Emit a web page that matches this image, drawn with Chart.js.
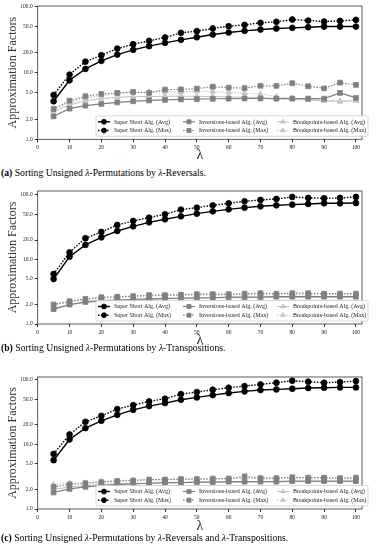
<!DOCTYPE html>
<html>
<head>
<meta charset="utf-8">
<script src="https://cdn.jsdelivr.net/npm/chart.js@4.4.0/dist/chart.umd.min.js"></script>
<style>
  body { margin: 0; background: #fff; width: 377px; height: 550px; position: relative; overflow: hidden; }
  .panel { position: absolute; left: 0; width: 377px; }
  .cap { position: absolute; left: 1px; font: 9.7px "Liberation Serif", serif; line-height: 12px; color: #000; white-space: nowrap; }
</style>
</head>
<body>
<div class="panel" style="top:0"><canvas id="chartA" width="377" height="165"></canvas></div>
<div class="cap" style="top:167px"><b>(a)</b> Sorting Unsigned <i>λ</i>-Permutations by <i>λ</i>-Reversals.</div>
<div class="panel" style="top:185px"><canvas id="chartB" width="377" height="165"></canvas></div>
<div class="cap" style="top:342px"><b>(b)</b> Sorting Unsigned <i>λ</i>-Permutations by <i>λ</i>-Transpositions.</div>
<div class="panel" style="top:371px"><canvas id="chartC" width="377" height="165"></canvas></div>
<div class="cap" style="top:532px"><b>(c)</b> Sorting Unsigned <i>λ</i>-Permutations by <i>λ</i>-Reversals and <i>λ</i>-Transpositions.</div>

<script>
// 공통 축 / 범례 정보
const lambdas = [5, 10, 15, 20, 25, 30, 35, 40, 45, 50, 55, 60, 65, 70, 75, 80, 85, 90, 95, 100];
const xTicks = [0, 10, 20, 30, 40, 50, 60, 70, 80, 90, 100];
const yTicks = [1, 2, 5, 10, 20, 50, 100];
const seriesNames = [
    'Super Short Alg. (Avg)', 'Super Short Alg. (Max)',
    'Inversions-based Alg. (Avg)', 'Inversions-based Alg. (Max)',
    'Breakpoints-based Alg. (Avg)', 'Breakpoints-based Alg. (Max)'
];

// (a) λ-Reversals
const ssAvgA = [3.74, 7.76, 11.5, 15.2, 18.9, 22.3, 25.3, 28.4, 31.5, 34.5, 37.9, 40.6, 43.1, 45.1, 46.7, 47.8, 48.9, 50.0, 50.0, 50.0];
const ssMaxA = [4.66, 9.45, 14.8, 18.5, 23.3, 27.1, 30.4, 34.2, 40.2, 42.6, 46.7, 50.6, 53.0, 56.9, 58.9, 63.8, 61.6, 59.5, 60.9, 63.1];
const invAvgA = [2.22, 2.9, 3.22, 3.41, 3.6, 3.74, 3.85, 3.92, 4.0, 4.03, 4.08, 4.1, 4.12, 4.12, 4.1, 4.12, 4.1, 4.1, 5.0, 4.2];
const invMaxA = [2.86, 3.82, 4.45, 4.82, 5.0, 5.17, 5.0, 5.6, 5.65, 5.81, 6.2, 6.0, 5.9, 6.4, 6.4, 7.0, 6.3, 5.85, 7.15, 6.6];
const bpAvgA = [2.64, 3.3, 3.8, 4.1, 4.3, 4.4, 4.4, 4.45, 4.45, 4.45, 4.4, 4.35, 4.3, 4.25, 4.1, 4.0, 3.9, 3.8, 3.75, 3.8];
const bpMaxA = [2.86, 3.6, 4.2, 4.6, 4.8, 5.1, 5.2, 5.2, 5.2, 5.3, 5.25, 5.1, 4.95, 4.8, 4.4, 4.15, 4.0, 3.85, 3.7, 3.9];

// (b) λ-Transpositions
const ssAvgB = [4.98, 11.05, 16.8, 22.0, 27.6, 32.6, 37.6, 41.9, 46.6, 51.3, 55.7, 59.8, 63.5, 66.6, 69.1, 70.7, 72.4, 74.2, 74.2, 75.0];
const ssMaxB = [5.95, 12.9, 21.3, 26.7, 34.2, 39.5, 44.5, 50.1, 59.2, 63.5, 69.1, 74.2, 79.7, 83.6, 86.6, 93.0, 89.8, 88.7, 89.8, 93.0];
const invAvgB = [1.7, 2.0, 2.2, 2.3, 2.35, 2.4, 2.45, 2.5, 2.5, 2.55, 2.55, 2.6, 2.6, 2.6, 2.65, 2.65, 2.65, 2.65, 2.65, 2.65];
const invMaxB = [2.0, 2.25, 2.45, 2.6, 2.65, 2.7, 2.8, 2.8, 2.85, 2.9, 2.9, 2.9, 2.95, 3.0, 2.95, 3.0, 3.0, 2.95, 2.95, 2.95];
const bpAvgB = [1.75, 2.0, 2.15, 2.25, 2.3, 2.35, 2.4, 2.45, 2.5, 2.5, 2.55, 2.55, 2.55, 2.6, 2.6, 2.6, 2.6, 2.6, 2.6, 2.6];
const bpMaxB = [1.95, 2.2, 2.4, 2.5, 2.6, 2.65, 2.7, 2.75, 2.8, 2.8, 2.85, 2.85, 2.85, 2.9, 2.9, 2.9, 2.9, 2.85, 2.9, 2.9];

// (c) λ-Reversals and λ-Transpositions
const ssAvgC = [5.68, 11.9, 17.8, 23.1, 28.6, 34.2, 39.0, 43.4, 48.9, 53.2, 57.8, 62.1, 65.9, 69.1, 70.7, 72.4, 74.2, 75.1, 75.9, 75.9];
const ssMaxC = [7.11, 14.2, 22.3, 27.6, 35.1, 40.4, 46.1, 50.7, 59.9, 64.3, 69.9, 75.1, 79.7, 84.6, 89.8, 96.4, 93.0, 89.8, 91.8, 95.2];
const invAvgC = [1.8, 2.05, 2.2, 2.3, 2.4, 2.45, 2.5, 2.55, 2.55, 2.6, 2.6, 2.65, 2.65, 2.65, 2.65, 2.7, 2.7, 2.7, 2.7, 2.7];
const invMaxC = [2.2, 2.4, 2.5, 2.6, 2.7, 2.75, 2.85, 2.85, 2.9, 2.9, 2.95, 2.95, 3.2, 3.0, 3.0, 3.1, 3.05, 3.05, 3.0, 3.05];
const bpAvgC = [2.0, 2.2, 2.3, 2.4, 2.45, 2.5, 2.5, 2.55, 2.55, 2.6, 2.6, 2.6, 2.6, 2.65, 2.65, 2.65, 2.65, 2.65, 2.65, 2.65];
const bpMaxC = [2.4, 2.5, 2.55, 2.65, 2.75, 2.8, 2.85, 2.85, 2.9, 2.9, 2.9, 2.95, 2.95, 3.0, 3.0, 3.0, 3.0, 3.0, 3.0, 3.0];

// 시리즈별 스타일 (색, 마커, 선 종류)
const styles = [
    { color: '#000000', fill: '#000000', marker: 'circle', radius: 2.9, width: 1.4, dash: [] },
    { color: '#000000', fill: '#000000', marker: 'circle', radius: 2.9, width: 1.4, dash: [1.5, 1.5] },
    { color: '#808080', fill: '#808080', marker: 'rect', radius: 3.4, width: 1.2, dash: [] },
    { color: '#808080', fill: '#808080', marker: 'rect', radius: 3.4, width: 1.2, dash: [1.5, 1.5] },
    { color: '#b8b8b8', fill: '#d0d0d0', marker: 'triangle', radius: 3.0, width: 0.9, dash: [] },
    { color: '#b8b8b8', fill: '#d0d0d0', marker: 'triangle', radius: 3.0, width: 0.9, dash: [1.5, 1.5] }
];

const serif = '"Liberation Serif", serif';

// 축 테두리 (matplotlib 스타일 박스)
const frameBox = {
    id: 'frameBox',
    afterDraw(chart) {
        const { ctx, chartArea: a } = chart;
        ctx.save();
        ctx.strokeStyle = '#333';
        ctx.lineWidth = 0.8;
        ctx.strokeRect(a.left, a.top, a.right - a.left, a.bottom - a.top);
        ctx.restore();
    }
};

function drawMarker(ctx, kind, x, y, r) {
    ctx.beginPath();
    if (kind === 'circle') {
        ctx.arc(x, y, r, 0, Math.PI * 2);
    } else if (kind === 'rect') {
        const s = r * Math.SQRT1_2;
        ctx.rect(x - s, y - s, s * 2, s * 2);
    } else {
        ctx.moveTo(x, y - r);
        ctx.lineTo(x + r * 0.87, y + r * 0.5);
        ctx.lineTo(x - r * 0.87, y + r * 0.5);
        ctx.closePath();
    }
    ctx.fill();
    ctx.stroke();
}

// 플롯 안쪽 오른쪽 아래 3열 범례
const boxLegend = {
    id: 'boxLegend',
    afterDraw(chart) {
        const { ctx, chartArea: a } = chart;
        const w = 272, h = 20.5;
        const x0 = a.right + 6 - w, y0 = a.bottom - 3 - h;
        const colX = [2, 87, 181];
        ctx.save();
        ctx.fillStyle = 'rgba(255,255,255,0.9)';
        ctx.strokeStyle = '#cccccc';
        ctx.lineWidth = 0.8;
        ctx.beginPath();
        ctx.roundRect(x0, y0, w, h, 1.5);
        ctx.fill();
        ctx.stroke();
        ctx.font = '6px ' + serif;
        ctx.textBaseline = 'middle';
        chart.data.datasets.forEach((ds, i) => {
            const st = styles[i];
            const sx = x0 + colX[Math.floor(i / 2)];
            const sy = y0 + 6 + (i % 2) * 8.7;
            ctx.strokeStyle = st.color;
            ctx.lineWidth = st.width;
            ctx.setLineDash(st.dash);
            ctx.beginPath();
            ctx.moveTo(sx, sy);
            ctx.lineTo(sx + 12, sy);
            ctx.stroke();
            ctx.setLineDash([]);
            ctx.fillStyle = st.fill;
            ctx.lineWidth = 0.8;
            drawMarker(ctx, st.marker, sx + 6, sy, st.radius * 0.85);
            ctx.fillStyle = '#222';
            ctx.fillText(ds.label, sx + 16, sy + 0.3);
        });
        ctx.restore();
    }
};

function makeChart(id, yMax, xAxisHeight, series) {
    const datasets = series.map((vals, i) => ({
        label: seriesNames[i],
        data: lambdas.map((x, k) => ({ x: x, y: vals[k] })),
        borderColor: styles[i].color,
        backgroundColor: styles[i].fill,
        pointBorderColor: styles[i].color,
        pointBackgroundColor: styles[i].fill,
        borderWidth: styles[i].width,
        borderDash: styles[i].dash,
        pointStyle: styles[i].marker,
        pointRadius: styles[i].radius,
        pointBorderWidth: 0.8,
        tension: 0,
        fill: false
    }));

    return new Chart(document.getElementById(id), {
        type: 'line',
        data: { datasets },
        options: {
            responsive: false,
            animation: false,
            layout: { padding: { top: 6, right: 15, left: 0, bottom: 0 } },
            plugins: { legend: { display: false }, tooltip: { enabled: false } },
            scales: {
                x: {
                    type: 'linear',
                    min: 0,
                    max: 101.9,
                    afterBuildTicks: scale => { scale.ticks = xTicks.map(v => ({ value: v })); },
                    afterFit: scale => { scale.height = xAxisHeight; },
                    grid: { drawOnChartArea: false, drawTicks: true, tickLength: 3, color: '#333' },
                    border: { display: false },
                    ticks: { font: { family: serif, size: 5.5 }, color: '#222', padding: 2, maxRotation: 0 },
                    title: { display: true, text: 'λ', font: { family: serif, size: 14 }, color: '#222', padding: { bottom: 1, top: 0 } }
                },
                y: {
                    type: 'logarithmic',
                    min: 1,
                    max: yMax,
                    afterBuildTicks: scale => { scale.ticks = yTicks.map(v => ({ value: v })); },
                    afterFit: scale => { scale.width = 37.7; },
                    grid: { drawOnChartArea: false, drawTicks: true, tickLength: 3, color: '#333' },
                    border: { display: false },
                    ticks: {
                        font: { family: serif, size: 5.5 },
                        color: '#222',
                        padding: 2,
                        callback: v => Number(v).toFixed(1)
                    },
                    title: { display: true, text: 'Approximation Factors', font: { family: serif, size: 12 }, color: '#333', padding: { top: 6, bottom: 0 } }
                }
            }
        },
        plugins: [frameBox, boxLegend]
    });
}

makeChart('chartA', 102, 25.7, [ssAvgA, ssMaxA, invAvgA, invMaxA, bpAvgA, bpMaxA]);
makeChart('chartB', 115, 26, [ssAvgB, ssMaxB, invAvgB, invMaxB, bpAvgB, bpMaxB]);
makeChart('chartC', 110, 27, [ssAvgC, ssMaxC, invAvgC, invMaxC, bpAvgC, bpMaxC]);
</script>
</body>
</html>
